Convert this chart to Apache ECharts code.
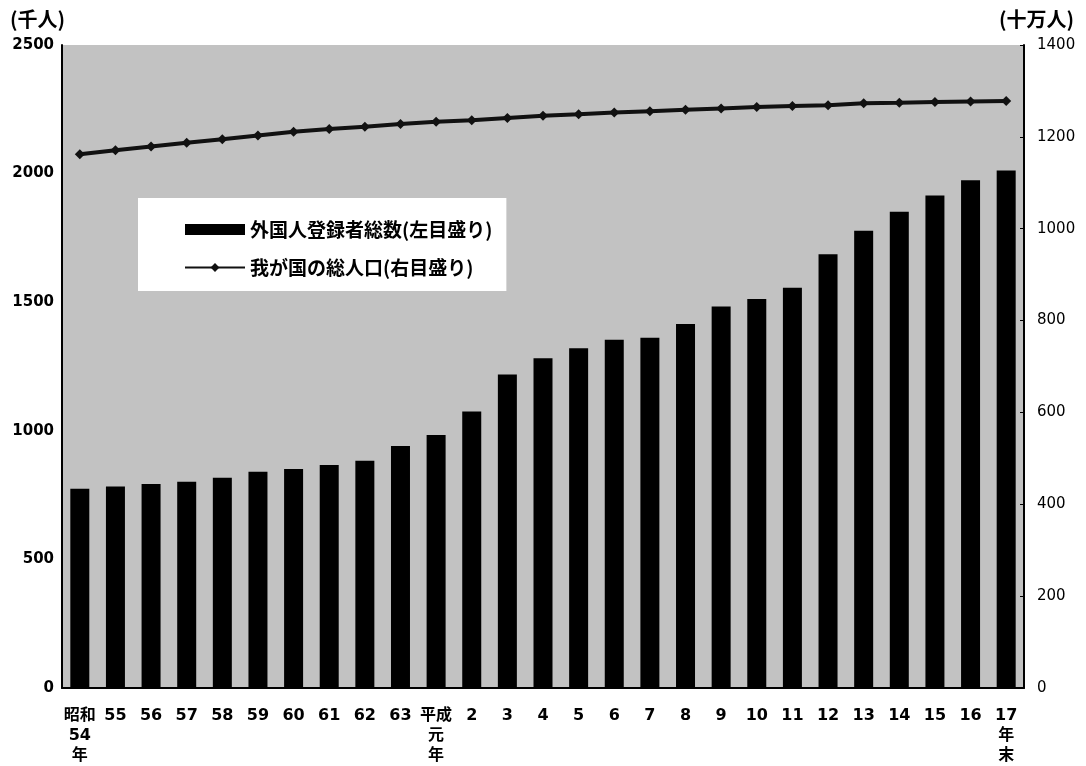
<!DOCTYPE html>
<html>
<head>
<meta charset="utf-8">
<script src="https://cdn.jsdelivr.net/npm/echarts@6/dist/echarts.min.js"></script>
<style>
  html, body { margin: 0; padding: 0; background: #fff; }
  #chart { width: 1086px; height: 766px; }
</style>
</head>
<body>
<div id="chart"></div>
<script>
// 昭和54年 ~ 平成17年末
const categories = ['昭和\n54\n年', '55', '56', '57', '58', '59', '60', '61', '62', '63',
  '平成\n元\n年', '2', '3', '4', '5', '6', '7', '8', '9', '10', '11', '12', '13', '14', '15', '16', '17\n年\n末']
// 外国人登録者総数 (千人)
const foreigners = [775, 783, 793, 802, 817, 841, 851, 867, 884, 941,
  984, 1075, 1219, 1282, 1321, 1354, 1362, 1415, 1483, 1512, 1556, 1686, 1778, 1852, 1915, 1974, 2012]
// 我が国の総人口 (十万人)
const population = [1162, 1171, 1179, 1187, 1195, 1203, 1211, 1217, 1222, 1228,
  1233, 1236, 1241, 1246, 1249, 1253, 1256, 1259, 1262, 1265, 1267, 1269, 1273, 1274, 1276, 1277, 1278]
const leftTicks = [0, 500, 1000, 1500, 2000, 2500]
const rightTicks = [0, 200, 400, 600, 800, 1000, 1200, 1400]

const font = 'DejaVu Sans, Noto Sans CJK JP, sans-serif'
const chart = echarts.init(document.getElementById('chart'))

chart.setOption({
  animation: false,
  grid: {
    left: 62, right: 62, top: 45, bottom: 78,
    show: true, backgroundColor: '#c2c2c2', borderWidth: 0
  },
  legend: {
    orient: 'vertical',
    left: 138, top: 198,
    padding: [22, 14, 14, 46],
    backgroundColor: '#ffffff',
    itemWidth: 60, itemHeight: 11, itemGap: 19,
    textStyle: { fontFamily: 'Noto Sans CJK JP', fontSize: 19, fontWeight: 'bold', color: '#000' },
    data: [{ name: '外国人登録者総数(左目盛り)', icon: 'rect' }, { name: '我が国の総人口(右目盛り)' }]
  },
  xAxis: {
    type: 'category',
    data: categories,
    axisLine: { lineStyle: { color: '#000', width: 2 } },
    axisTick: { show: false },
    axisLabel: {
      interval: 0, margin: 18, color: '#000', fontFamily: font,
      fontSize: 16, fontWeight: 'bold', lineHeight: 20
    }
  },
  yAxis: [{
    type: 'value',
    min: leftTicks[0], max: leftTicks[leftTicks.length - 1], interval: 500,
    name: '(千人)',
    nameGap: 16,
    nameTextStyle: { fontFamily: 'Noto Sans CJK JP', fontSize: 20, fontWeight: 'bold', color: '#000', align: 'right', padding: [0, -3, 0, 0] },
    axisLine: { show: true, lineStyle: { color: '#000', width: 2 } },
    axisTick: { show: false },
    splitLine: { show: false },
    axisLabel: { margin: 8, color: '#000', fontFamily: font, fontSize: 15, fontWeight: 'bold', formatter: v => String(v) }
  }, {
    type: 'value',
    min: rightTicks[0], max: rightTicks[rightTicks.length - 1], interval: 200,
    name: '(十万人)',
    nameGap: 16,
    nameTextStyle: { fontFamily: 'Noto Sans CJK JP', fontSize: 20, fontWeight: 'bold', color: '#000', align: 'left', padding: [0, 0, 0, -25] },
    axisLine: { show: true, lineStyle: { color: '#000', width: 2 } },
    axisTick: { show: true, inside: true, length: 4, lineStyle: { color: '#000' } },
    splitLine: { show: false },
    axisLabel: { margin: 13, color: '#000', fontFamily: font, fontSize: 15, formatter: v => String(v) }
  }],
  series: [{
    name: '外国人登録者総数(左目盛り)',
    type: 'bar',
    yAxisIndex: 0,
    data: foreigners,
    barWidth: 19,
    itemStyle: { color: '#000' }
  }, {
    name: '我が国の総人口(右目盛り)',
    type: 'line',
    yAxisIndex: 1,
    data: population,
    symbol: 'diamond',
    symbolSize: 10,
    lineStyle: { color: '#111', width: 4 },
    itemStyle: { color: '#111' }
  }]
})
</script>
</body>
</html>
